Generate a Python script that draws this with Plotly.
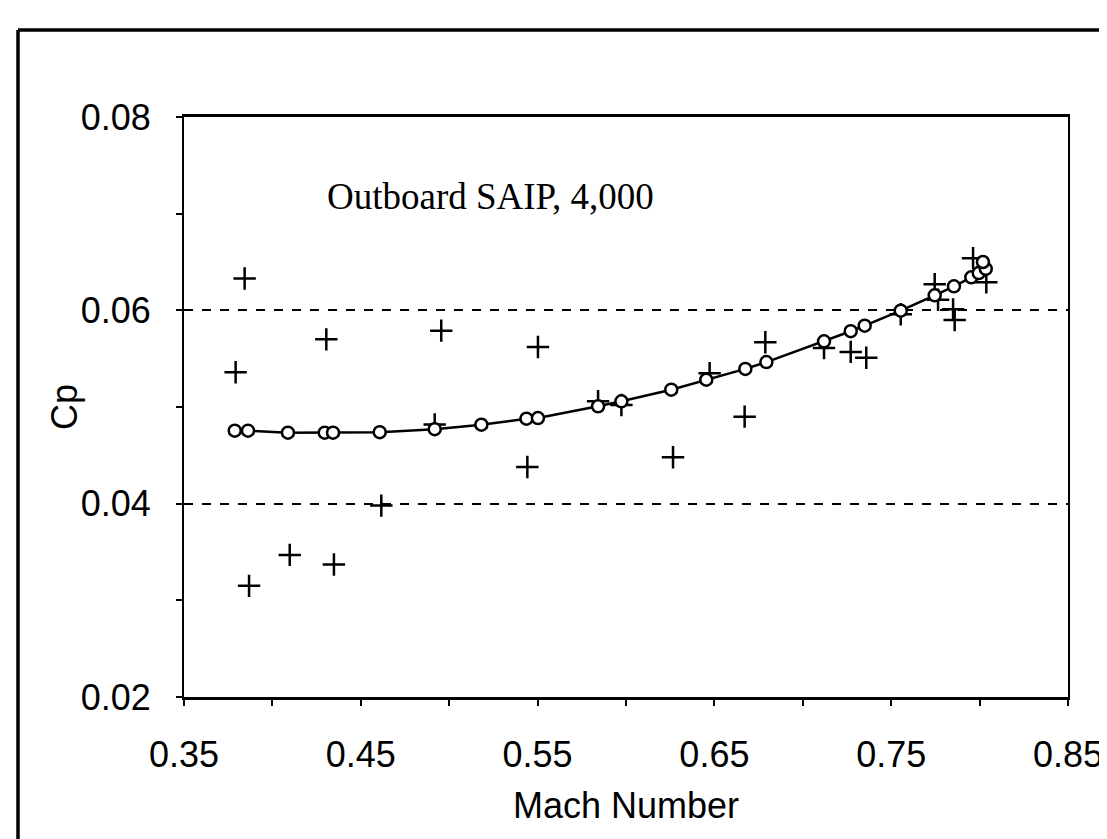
import plotly.graph_objects as go

# Faired curve (open circles joined by a line)
mach_curve = [0.3787, 0.3862, 0.4088, 0.4296, 0.4343, 0.4607, 0.4918, 0.5182,
              0.5437, 0.5502, 0.5842, 0.5974, 0.6256, 0.6454, 0.6675, 0.6794,
              0.7120, 0.7271, 0.7350, 0.7554, 0.7746, 0.7855, 0.7953, 0.7995,
              0.8035, 0.8019]
cp_curve = [0.04755, 0.04755, 0.04734, 0.04734, 0.04734, 0.04740, 0.04770, 0.04817,
            0.04879, 0.04886, 0.05007, 0.05059, 0.05179, 0.05282, 0.05394, 0.05465,
            0.05680, 0.05784, 0.05841, 0.05996, 0.06155, 0.06248, 0.06341, 0.06386,
            0.06430, 0.06500]

# Measured points (plus markers)
mach_plus = [0.3843, 0.4305, 0.4955, 0.3792, 0.4918, 0.4616, 0.4098, 0.4348, 0.3868,
             0.5502, 0.5842, 0.5974, 0.5442, 0.6266, 0.6473, 0.6671, 0.6788, 0.7120,
             0.7271, 0.7359, 0.7554, 0.7746, 0.7765, 0.7850, 0.7859, 0.7963, 0.8038]
cp_plus = [0.0633, 0.0570, 0.0579, 0.0536, 0.0482, 0.0398, 0.0347, 0.0337, 0.0315,
           0.0562, 0.0506, 0.0502, 0.0438, 0.0448, 0.0535, 0.0490, 0.0567, 0.0561,
           0.0557, 0.0551, 0.0596, 0.0627, 0.0611, 0.0601, 0.0590, 0.0654, 0.0629]

x_ticks = [0.35, 0.45, 0.55, 0.65, 0.75, 0.85]
x_ticklabels = ["0.35", "0.45", "0.55", "0.65", "0.75", "0.85"]
y_ticks = [0.02, 0.04, 0.06, 0.08]
y_ticklabels = ["0.02", "0.04", "0.06", "0.08"]

annotation_text = "Outboard SAIP, 4,000"
x_title = "Mach Number"
y_title = "Cp"

W, H = 1107, 839
L, R, T, B = 176, 1060, 109, 689

fig = go.Figure()
fig.add_trace(go.Scatter(
    x=mach_plus, y=cp_plus, mode="markers",
    marker=dict(symbol="cross-thin", size=16, line=dict(color="black", width=2.5)),
    showlegend=False))
fig.add_trace(go.Scatter(
    x=mach_curve, y=cp_curve, mode="lines+markers",
    line=dict(color="black", width=2.5),
    marker=dict(symbol="circle", size=12, color="white",
                line=dict(color="black", width=2.5)),
    showlegend=False))

font_axis = dict(family="Liberation Sans, Arial", size=36, color="black")

fig.update_layout(
    width=W, height=H,
    margin=dict(l=L, r=W - R, t=T, b=H - B),
    paper_bgcolor="white", plot_bgcolor="white",
    xaxis=dict(range=[0.35, 0.85], tickvals=x_ticks, ticktext=x_ticklabels,
               showgrid=False, zeroline=False, showline=True, linecolor="black",
               linewidth=2.5, mirror=True, ticks="outside", ticklen=6, tickwidth=1.5,
               tickcolor="black", tickfont=font_axis, ticklabelstandoff=18,
               minor=dict(tickvals=[0.40, 0.50, 0.60, 0.70, 0.80], ticks="outside",
                          ticklen=6, tickwidth=1.5, tickcolor="black")),
    yaxis=dict(range=[0.02, 0.08], tickvals=y_ticks, ticktext=y_ticklabels,
               showgrid=True, gridcolor="black", gridwidth=1.5, griddash="dash",
               zeroline=False, showline=True, linecolor="black",
               linewidth=2, mirror=True, ticks="outside", ticklen=6, tickwidth=1.5,
               tickcolor="black", tickfont=font_axis, ticklabelstandoff=18,
               minor=dict(tickvals=[0.03, 0.05, 0.07], ticks="outside",
                          ticklen=6, tickwidth=1.5, tickcolor="black")),
)

def px_x(p):
    return (p - L) / (R - L)

def px_y(p):
    return (B - p) / (B - T)

fig.add_annotation(x=0.4298, y=0.0718, xref="x", yref="y", text=annotation_text,
                   showarrow=False, xanchor="left", yanchor="middle",
                   font=dict(family="Liberation Serif, Times New Roman", size=37,
                             color="black"))
fig.add_annotation(x=0.5, y=px_y(797), xref="paper", yref="paper", text=x_title,
                   showarrow=False, xanchor="center", yanchor="middle", font=font_axis)
fig.add_annotation(x=px_x(56), y=0.5, xref="paper", yref="paper", text=y_title,
                   showarrow=False, xanchor="center", yanchor="middle",
                   textangle=-90, font=font_axis)

# outer frame (left and top edges)
for (x0, y0, x1, y1) in [(10, 22, 10, 839), (10, 22, 1107, 22)]:
    fig.add_shape(type="line", xref="paper", yref="paper",
                  x0=px_x(x0), y0=px_y(y0), x1=px_x(x1), y1=px_y(y1),
                  line=dict(color="black", width=3.5))

fig.write_html("out.html")
